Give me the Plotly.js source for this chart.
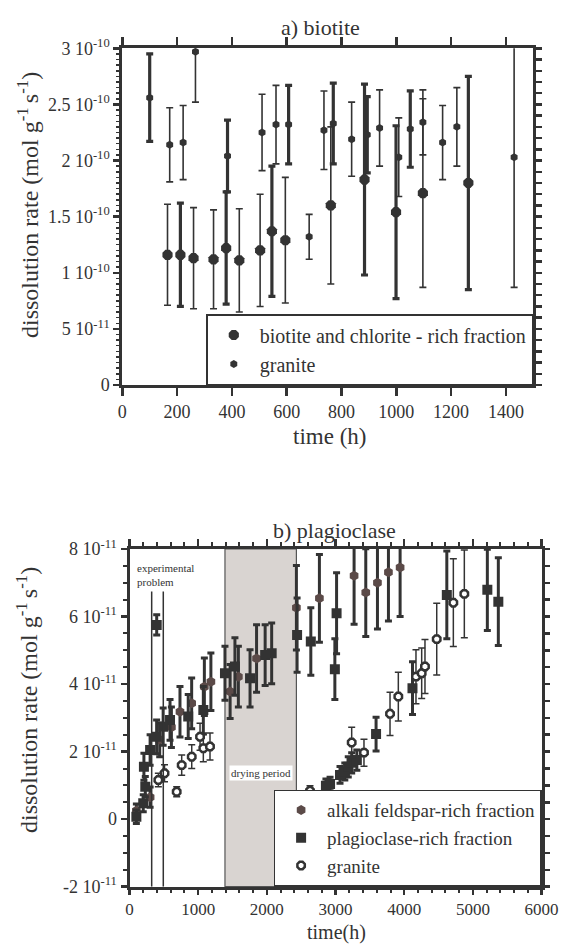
<!DOCTYPE html>
<html><head><meta charset="utf-8">
<script src="https://cdn.plot.ly/plotly-3.0.1.min.js"></script>
<style>html,body{margin:0;padding:0;background:#fff}</style>
</head><body><div id="chart" style="width:561px;height:945px"></div>
<script>
// ---------- a) biotite : time (h), rate (mol g-1 s-1), error ----------
const bioThickTime = [212, 379, 546, 884, 999, 1263];
const bioThickRate = [1.16e-10, 1.22e-10, 1.37e-10, 1.83e-10, 1.54e-10, 1.80e-10];
const bioThickErr  = [0.46e-10, 0.50e-10, 0.58e-10, 0.85e-10, 0.77e-10, 0.95e-10];

const bioThinTime = [165, 260, 333, 427, 503, 595, 761, 1097];
const bioThinRate = [1.16e-10, 1.13e-10, 1.12e-10, 1.11e-10, 1.20e-10, 1.29e-10, 1.60e-10, 1.71e-10];
const bioThinErr  = [0.45e-10, 0.45e-10, 0.44e-10, 0.46e-10, 0.50e-10, 0.56e-10, 0.70e-10, 0.84e-10];

const granAThickTime = [100, 384, 607, 770, 894, 1051];
const granAThickRate = [2.56e-10, 2.04e-10, 2.32e-10, 2.33e-10, 2.23e-10, 2.28e-10];
const granAThickErr  = [0.39e-10, 0.32e-10, 0.35e-10, 0.36e-10, 0.34e-10, 0.34e-10];

const granAThinTime = [173, 222, 267, 510, 561, 682, 736, 837, 939, 1009, 1097, 1169, 1221, 1430];
const granAThinRate = [2.14e-10, 2.16e-10, 2.97e-10, 2.25e-10, 2.32e-10, 1.32e-10, 2.27e-10, 2.19e-10, 2.29e-10, 2.03e-10, 2.34e-10, 2.16e-10, 2.30e-10, 2.03e-10];
const granAThinErr  = [0.33e-10, 0.33e-10, 0.45e-10, 0.34e-10, 0.35e-10, 0.20e-10, 0.35e-10, 0.33e-10, 0.34e-10, 0.35e-10, 0.29e-10, 0.33e-10, 0.35e-10, 1.16e-10];

// ---------- b) plagioclase ----------
const alkTime = [100, 300, 440, 610, 735, 905, 1090, 1185, 1465, 1585, 1850, 2430, 2765, 3270, 3440, 3610, 3770, 3940];
const alkRate = [0.25e-11, 0.65e-11, 2.35e-11, 2.72e-11, 3.18e-11, 3.43e-11, 3.92e-11, 4.07e-11, 3.78e-11, 4.22e-11, 4.76e-11, 6.26e-11, 6.54e-11, 7.21e-11, 6.71e-11, 7.00e-11, 7.31e-11, 7.45e-11];
const alkErr  = [0.2e-11, 0.3e-11, 0.5e-11, 0.6e-11, 0.75e-11, 0.75e-11, 0.85e-11, 0.85e-11, 0.8e-11, 0.9e-11, 1.0e-11, 1.25e-11, 1.3e-11, 1.44e-11, 1.3e-11, 1.37e-11, 1.44e-11, 1.45e-11];

const plagTime = [100, 200, 230, 210, 300, 396, 395, 490, 590, 855, 1075, 1390, 1535, 1755, 1975, 2070, 2440, 2640, 2990, 3015, 2860, 2920, 3065, 3135, 3185, 3235, 3310, 3590, 4120, 4620, 5210, 5370];
const plagRate = [0.07e-11, 0.47e-11, 0.96e-11, 1.55e-11, 2.05e-11, 5.75e-11, 2.44e-11, 2.74e-11, 2.94e-11, 3.04e-11, 3.23e-11, 4.32e-11, 4.52e-11, 4.17e-11, 4.86e-11, 4.91e-11, 5.45e-11, 5.26e-11, 4.44e-11, 6.10e-11, 0.99e-11, 1.04e-11, 1.31e-11, 1.41e-11, 1.55e-11, 1.67e-11, 1.75e-11, 2.52e-11, 3.88e-11, 6.64e-11, 6.79e-11, 6.44e-11];
const plagErr  = [0.2e-11, 0.25e-11, 0.3e-11, 0.4e-11, 0.45e-11, 0.3e-11, 0.5e-11, 0.55e-11, 0.6e-11, 0.65e-11, 0.7e-11, 0.8e-11, 0.85e-11, 0.85e-11, 0.9e-11, 0.9e-11, 1.1e-11, 1.0e-11, 0.9e-11, 1.2e-11, 0.2e-11, 0.2e-11, 0.25e-11, 0.25e-11, 0.3e-11, 0.3e-11, 0.3e-11, 0.5e-11, 0.78e-11, 1.3e-11, 1.2e-11, 1.3e-11];

const granBTime = [420, 510, 687, 760, 906, 1027, 1075, 1172, 2628, 3235, 3414, 3793, 3914, 4171, 4254, 4302, 4473, 4715, 4875];
const granBRate = [1.16e-11, 1.36e-11, 0.81e-11, 1.60e-11, 1.85e-11, 2.44e-11, 2.10e-11, 2.15e-11, 0.84e-11, 2.27e-11, 1.97e-11, 3.12e-11, 3.63e-11, 4.22e-11, 4.32e-11, 4.52e-11, 5.33e-11, 6.41e-11, 6.67e-11];
const granBErr  = [0.2e-11, 0.25e-11, 0.15e-11, 0.3e-11, 0.35e-11, 0.4e-11, 0.4e-11, 0.4e-11, 0.15e-11, 0.45e-11, 0.4e-11, 0.64e-11, 0.72e-11, 0.8e-11, 0.75e-11, 0.8e-11, 1.06e-11, 1.3e-11, 1.3e-11];

const dryingPeriod = [1390, 2430];
const problemPeriod = [323, 492];

const yTickValsA = [0, 5e-11, 1e-10, 1.5e-10, 2e-10, 2.5e-10, 3e-10];
const yTickTextA = ['0', '5 10<sup>-11</sup>', '1 10<sup>-10</sup>', '1.5 10<sup>-10</sup>', '2 10<sup>-10</sup>', '2.5 10<sup>-10</sup>', '3 10<sup>-10</sup>'];
const yTickValsB = [-2e-11, 0, 2e-11, 4e-11, 6e-11, 8e-11];
const yTickTextB = ['-2 10<sup>-11</sup>', '0', '2 10<sup>-11</sup>', '4 10<sup>-11</sup>', '6 10<sup>-11</sup>', '8 10<sup>-11</sup>'];

// ---------- rendering ----------
const W = 561, H = 945;
const px = v => v / W, py = v => 1 - v / H;
const FONT = 'Liberation Serif';
const INK = '#333333';
const ALK = '#5b4a48';

function errTrace(t, r, e, opts) {
  return Object.assign({
    type: 'scatter', mode: 'markers', x: t, y: r,
    error_y: {type: 'data', array: e, color: INK, thickness: opts.thick, width: 3.5},
  }, opts.extra);
}

const traces = [
  errTrace(bioThinTime, bioThinRate, bioThinErr, {thick: 1.6, extra: {xaxis: 'x', yaxis: 'y', name: 'biotite and chlorite - rich fraction', legend: 'legend', showlegend: false, legendgroup: 'bio', marker: {symbol: 'octagon', size: 11, color: INK}}}),
  errTrace(bioThickTime, bioThickRate, bioThickErr, {thick: 3.2, extra: {xaxis: 'x', yaxis: 'y', name: 'biotite and chlorite - rich fraction', legend: 'legend', showlegend: true, legendgroup: 'bio', marker: {symbol: 'octagon', size: 11, color: INK}}}),
  errTrace(granAThinTime, granAThinRate, granAThinErr, {thick: 1.6, extra: {xaxis: 'x', yaxis: 'y', name: 'granite', legend: 'legend', showlegend: false, legendgroup: 'gra', marker: {symbol: 'hexagon', size: 8, color: INK}}}),
  errTrace(granAThickTime, granAThickRate, granAThickErr, {thick: 3.2, extra: {xaxis: 'x', yaxis: 'y', name: 'granite', legend: 'legend', showlegend: true, legendgroup: 'gra', marker: {symbol: 'hexagon', size: 8, color: INK}}}),
  errTrace(alkTime, alkRate, alkErr, {thick: 3, extra: {xaxis: 'x3', yaxis: 'y3', name: 'alkali feldspar-rich fraction', legend: 'legend2', marker: {symbol: 'hexagon', size: 10, color: ALK}}}),
  errTrace(plagTime, plagRate, plagErr, {thick: 3, extra: {xaxis: 'x3', yaxis: 'y3', name: 'plagioclase-rich fraction', legend: 'legend2', marker: {symbol: 'square', size: 10, color: INK}}}),
  errTrace(granBTime, granBRate, granBErr, {thick: 1.5, extra: {xaxis: 'x3', yaxis: 'y3', name: 'granite', legend: 'legend2', marker: {symbol: 'octagon', size: 8, color: '#ffffff', line: {color: INK, width: 2.5}}}}),
  {type: 'scatter', x: [], y: [], xaxis: 'x2', yaxis: 'y2', showlegend: false},
  {type: 'scatter', x: [], y: [], xaxis: 'x4', yaxis: 'y4', showlegend: false},
];

const domXA = [px(122.3), px(533.3)], domYA = [py(385), py(48.3)];
const domXB = [px(129.5), px(541.6)], domYB = [py(886.7), py(549)];
const baseAx = {showgrid: false, zeroline: false, showline: true, linecolor: INK, linewidth: 3, ticks: 'outside', tickcolor: INK,
  tickfont: {family: FONT, size: 18, color: INK}};

const ann = (text, x, y, size, extra) => Object.assign({text, xref: 'paper', yref: 'paper', x: px(x), y: py(y), xanchor: 'center', yanchor: 'middle', showarrow: false,
  font: {family: FONT, size, color: INK}}, extra || {});

const layout = {
  width: W, height: H, margin: {l: 0, r: 0, t: 0, b: 0},
  paper_bgcolor: '#fff', plot_bgcolor: '#fff', font: {family: FONT, color: INK},
  xaxis: Object.assign({}, baseAx, {domain: domXA, anchor: 'y', range: [0, 1500], tickmode: 'array', tickvals: [0,200,400,600,800,1000,1200,1400], ticklen: 8, tickwidth: 2.5}),
  yaxis: Object.assign({}, baseAx, {domain: domYA, anchor: 'x', range: [0, 3e-10], tickmode: 'array', tickvals: yTickValsA, ticktext: yTickTextA, ticklen: 6, tickwidth: 2.5,
    minor: {tickmode: 'linear', tick0: 0, dtick: 5e-12, ticks: 'outside', ticklen: 3, tickwidth: 1.5, tickcolor: INK}}),
  xaxis2: Object.assign({}, baseAx, {overlaying: 'x', anchor: 'y', side: 'top', range: [0, 1500], tickmode: 'linear', tick0: 0, dtick: 200, ticklen: 8, tickwidth: 2.5, showticklabels: false}),
  yaxis2: Object.assign({}, baseAx, {overlaying: 'y', anchor: 'x', side: 'right', range: [0, 3e-10], tickmode: 'linear', tick0: 0, dtick: 1e-11, ticklen: 6, tickwidth: 2.5, showticklabels: false}),

  xaxis3: Object.assign({}, baseAx, {domain: domXB, anchor: 'y3', range: [0, 6000], tickmode: 'linear', tick0: 0, dtick: 1000, ticklen: 5, tickwidth: 2.5,
    tickfont: {family: FONT, size: 17, color: INK},
    minor: {tickmode: 'linear', tick0: 0, dtick: 200, ticks: 'outside', ticklen: 3, tickwidth: 2, tickcolor: INK}}),
  yaxis3: Object.assign({}, baseAx, {domain: domYB, anchor: 'x3', range: [-2e-11, 8e-11], tickmode: 'array', tickvals: yTickValsB, ticktext: yTickTextB, ticklen: 6, tickwidth: 2.5,
    minor: {tickmode: 'linear', tick0: 0, dtick: 0.5e-11, ticks: 'outside', ticklen: 4, tickwidth: 2, tickcolor: INK}}),
  xaxis4: Object.assign({}, baseAx, {overlaying: 'x3', anchor: 'y3', side: 'top', range: [0, 6000], tickmode: 'linear', tick0: 0, dtick: 1000, ticklen: 7, tickwidth: 2.5, showticklabels: false,
    minor: {tickmode: 'linear', tick0: 0, dtick: 200, ticks: 'outside', ticklen: 4, tickwidth: 2, tickcolor: INK}}),
  yaxis4: Object.assign({}, baseAx, {overlaying: 'y3', anchor: 'x3', side: 'right', range: [-2e-11, 8e-11], tickmode: 'linear', tick0: 0, dtick: 0.5e-11, ticklen: 5, tickwidth: 2.5, showticklabels: false}),

  legend: {x: px(533.3), xanchor: 'right', y: py(385), yanchor: 'bottom', bgcolor: '#fff', bordercolor: INK, borderwidth: 1.5,
    font: {family: FONT, size: 20, color: INK}, itemwidth: 42, tracegroupgap: 0},
  legend2: {x: px(541.6), xanchor: 'right', y: py(886.7), yanchor: 'bottom', bgcolor: '#fff', bordercolor: INK, borderwidth: 1.5,
    font: {family: FONT, size: 19, color: INK}, itemwidth: 42, tracegroupgap: 0},

  shapes: [
    {type: 'rect', xref: 'x3', yref: 'y3 domain', x0: dryingPeriod[0], x1: dryingPeriod[1], y0: 0, y1: 1, fillcolor: '#d9d4d1', line: {color: '#555', width: 1.2}, layer: 'below'},
    {type: 'line', xref: 'x3', yref: 'y3', x0: problemPeriod[0], x1: problemPeriod[0], y0: -2e-11, y1: 6.74e-11, line: {color: INK, width: 1.5}},
    {type: 'line', xref: 'x3', yref: 'y3', x0: problemPeriod[1], x1: problemPeriod[1], y0: -2e-11, y1: 6.74e-11, line: {color: INK, width: 1.5}},
  ],
  annotations: [
    ann('a) biotite', 320, 27, 22),
    ann('b) plagioclase', 334, 530, 22),
    ann('dissolution rate (mol g<sup>-1 </sup>s<sup>-1</sup>)', 28, 205, 24, {textangle: -90}),
    ann('dissolution rate (mol g<sup>-1 </sup>s<sup>-1</sup>)', 27, 700, 24, {textangle: -90}),
    ann('time (h)', 329, 436, 23),
    ann('time(h)', 336, 932, 20, {borderpad: 0}),
    ann('experimental<br>problem', 135, 575, 11, {xanchor: 'left', align: 'left'}),
    {text: 'drying period', xref: 'x3', yref: 'paper', x: (dryingPeriod[0] + dryingPeriod[1]) / 2, y: py(773), xanchor: 'center', yanchor: 'middle', showarrow: false, bgcolor: '#fff', font: {family: FONT, size: 11, color: INK}},
  ],
};

Plotly.newPlot('chart', traces, layout, {displayModeBar: false, staticPlot: true});
</script></body></html>
